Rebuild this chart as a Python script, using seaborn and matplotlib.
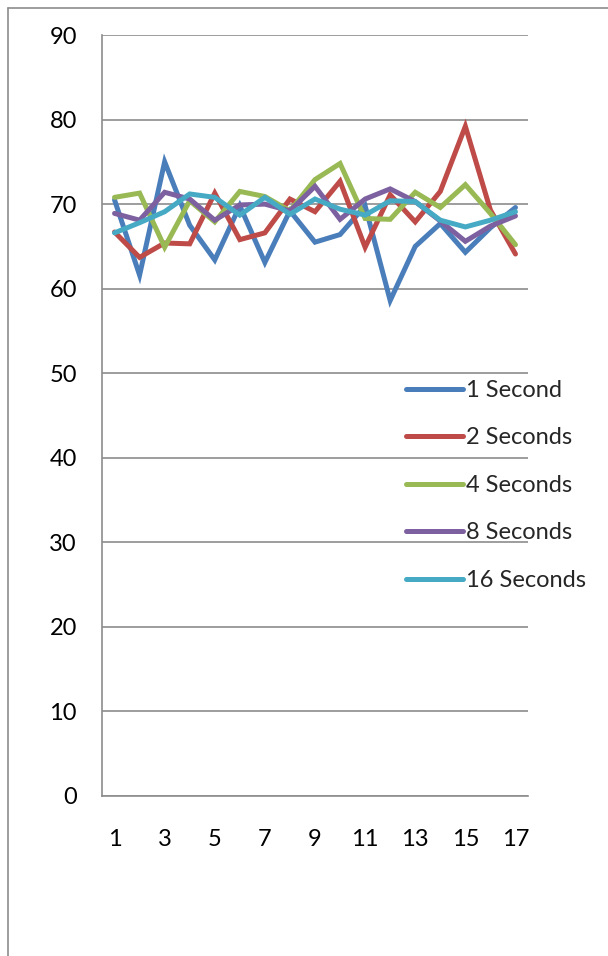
import matplotlib
matplotlib.use("Agg")
import matplotlib.pyplot as plt
import matplotlib.lines as mlines
import numpy as np
import pandas as pd
import seaborn as sns

# Trial numbers along the category axis
trials = list(range(1, 18))

one_second = [70.5, 61.6, 75.0, 67.5, 63.4, 69.8, 63.1, 69.2, 65.5, 66.4,
              69.8, 58.6, 65.0, 67.7, 64.3, 67.2, 69.6]
two_seconds = [66.7, 63.7, 65.4, 65.3, 71.3, 65.8, 66.6, 70.6, 69.1, 72.7,
               64.9, 71.1, 67.9, 71.5, 79.2, 69.3, 64.1]
four_seconds = [70.8, 71.3, 64.9, 70.4, 67.9, 71.5, 70.9, 69.2, 72.9, 74.8,
                68.3, 68.2, 71.4, 69.6, 72.3, 68.9, 65.2]
eight_seconds = [68.9, 68.1, 71.4, 70.6, 68.1, 69.9, 70.0, 69.2, 72.1, 68.2,
                 70.6, 71.8, 70.3, 68.0, 65.6, 67.4, 68.6]
sixteen_seconds = [66.6, 67.8, 69.1, 71.2, 70.8, 68.7, 70.8, 68.8, 70.6, 69.4,
                   68.7, 70.4, 70.3, 68.1, 67.3, 68.1, 69.1]

series_names = ["1 Second", "2 Seconds", "4 Seconds", "8 Seconds", "16 Seconds"]
series_values = [one_second, two_seconds, four_seconds, eight_seconds, sixteen_seconds]
colors = ["#4A7EBB", "#BE4B48", "#98B954", "#7D60A0", "#46AAC5"]

y_ticks = [0, 10, 20, 30, 40, 50, 60, 70, 80, 90]
x_tick_labels = ["1", "3", "5", "7", "9", "11", "13", "15", "17"]

rows = []
for name, vals in zip(series_names, series_values):
    for pos, v in enumerate(vals):
        rows.append({"pos": pos, "value": v, "series": name})
df = pd.DataFrame(rows)

sns.set_style("white")
plt.rcParams["font.family"] = ["Lato", "DejaVu Sans"]

fig = plt.figure(figsize=(6.08, 9.56), dpi=100)
ax = fig.add_axes([102 / 608, 1 - 796 / 956, 426 / 608, 761 / 956])

sns.lineplot(data=df, x="pos", y="value", hue="series", hue_order=series_names,
             palette=colors, linewidth=3.6, ax=ax, legend=False,
             solid_capstyle="round", solid_joinstyle="miter")

grid_color = "#8C8C8C"
ax.set_xlim(-0.5, 16.5)
ax.set_ylim(0, 90)
ax.set_yticks(y_ticks)
ax.yaxis.grid(True, color=grid_color, linewidth=1.2)
ax.set_axisbelow(True)
ax.tick_params(axis="y", direction="out", length=7, width=1.2, color=grid_color,
               pad=11, labelsize=17, labelcolor="black")

# Category boundaries carry the tick marks; labels sit at every other category
ax.set_xticks(np.arange(-0.5, 17.0, 1.0))
ax.set_xticklabels([])
ax.set_xticks(np.arange(0, 17, 2), minor=True)
ax.set_xticklabels(x_tick_labels, minor=True)
ax.tick_params(axis="x", which="major", direction="out", length=6, width=1.2,
               color=grid_color)
ax.tick_params(axis="x", which="minor", length=0, pad=24, labelsize=17,
               labelcolor="black")

for side in ["top", "right"]:
    ax.spines[side].set_visible(False)
for side in ["left", "bottom"]:
    ax.spines[side].set_color(grid_color)
    ax.spines[side].set_linewidth(1.2)
ax.set_xlabel("")
ax.set_ylabel("")

handles = [mlines.Line2D([], [], color=c, linewidth=3.6, solid_capstyle="round")
           for c in colors]
leg = ax.legend(handles, series_names, loc="upper left",
                bbox_to_anchor=(406 / 608, 1 - 380 / 956),
                bbox_transform=fig.transFigure, frameon=False, fontsize=17,
                handlelength=2.4, handletextpad=0.12, labelspacing=1.12,
                borderpad=0, borderaxespad=0)

# Outer chart border (left and top edges)
fig.add_artist(mlines.Line2D([8 / 608, 8 / 608], [0, 1 - 8 / 956],
                             transform=fig.transFigure, color=grid_color, linewidth=1.2))
fig.add_artist(mlines.Line2D([8 / 608, 1], [1 - 8 / 956, 1 - 8 / 956],
                             transform=fig.transFigure, color=grid_color, linewidth=1.2))

fig.savefig("out.png", dpi=100)
